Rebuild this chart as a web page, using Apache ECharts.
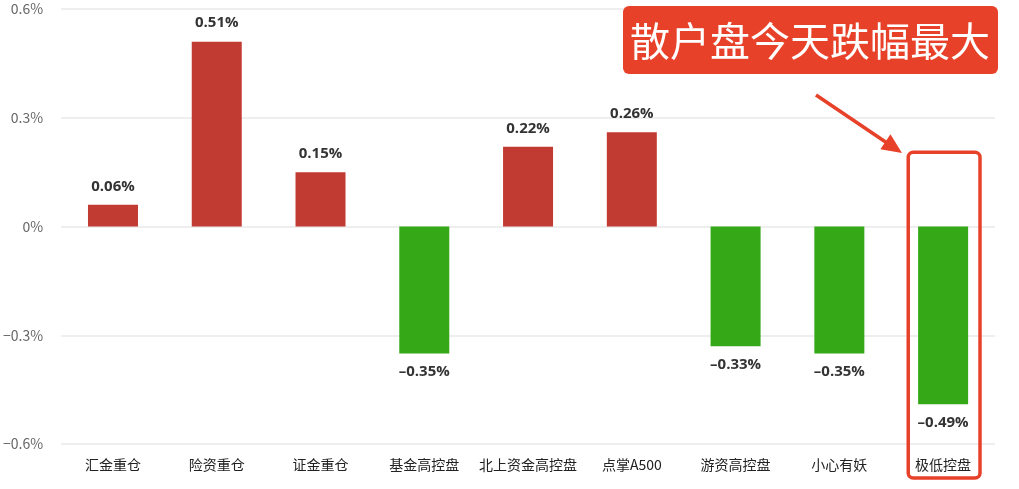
<!DOCTYPE html>
<html>
<head>
<meta charset="utf-8">
<script src="https://cdn.jsdelivr.net/npm/echarts@6/dist/echarts.min.js"></script>
<style>
  html, body { margin: 0; padding: 0; background: #fff; }
  #chart { width: 1019px; height: 489px; }
</style>
</head>
<body>
<div id="chart"></div>
<script>
// Daily change by watchlist group (%)
const categories = ['汇金重仓', '险资重仓', '证金重仓', '基金高控盘', '北上资金高控盘', '点掌A500', '游资高控盘', '小心有妖', '极低控盘'];
const changes = [0.06, 0.51, 0.15, -0.35, 0.22, 0.26, -0.33, -0.35, -0.49];
const yTicks = [-0.6, -0.3, 0, 0.3, 0.6];
const calloutText = '散户盘今天跌幅最大';
const highlightIndex = 8;

const UP = '#c23b32';
const DOWN = '#34a816';
const ACCENT = '#e8412a';
const CJK = '"Noto Sans CJK SC", "Noto Sans", sans-serif';

const GRID = { left: 59, right: 24, top: 9, bottom: 45 };

function fmtPct(v) {
  const r = Math.round(v * 100) / 100;
  if (r === 0) return '0%';
  return (r < 0 ? '–' : '') + Math.abs(r) + '%';
}

const chart = echarts.init(document.getElementById('chart'), null, { renderer: 'canvas' });

chart.setOption({
  animation: false,
  grid: Object.assign({ containLabel: false }, GRID),
  xAxis: {
    type: 'category',
    data: categories,
    axisLine: { show: false },
    axisTick: { show: false },
    axisLabel: { interval: 0, color: '#222', fontSize: 14, fontFamily: CJK, margin: 14 }
  },
  yAxis: {
    type: 'value',
    min: yTicks[0],
    max: yTicks[yTicks.length - 1],
    interval: 0.3,
    axisLine: { show: false },
    axisTick: { show: false },
    splitLine: { lineStyle: { color: '#e8e8e8', width: 1.5 } },
    axisLabel: {
      color: '#666', fontSize: 14, fontFamily: CJK, margin: 18,
      formatter: v => fmtPct(v).replace('–', '−')
    }
  },
  series: [{
    type: 'bar',
    barWidth: 50,
    data: changes.map(v => ({
      value: v,
      itemStyle: { color: v >= 0 ? UP : DOWN },
      label: { position: v >= 0 ? 'top' : 'bottom' }
    })),
    label: {
      show: true,
      distance: 11,
      color: '#333',
      fontSize: 15,
      fontWeight: 'bold',
      fontFamily: '"Open Sans", "Noto Sans", sans-serif',
      formatter: p => fmtPct(p.value)
    }
  }]
});

// Callout, arrow and highlight frame around the weakest group
function drawAnnotations() {
  const cx = chart.convertToPixel({ xAxisIndex: 0 }, categories[highlightIndex]);
  const boxTop = chart.convertToPixel({ yAxisIndex: 0 }, 0.205);
  const band = (1019 - GRID.left - GRID.right) / categories.length;
  const boxW = band * 0.69;
  const boxX = cx - boxW / 2 + 1;
  const boxBottom = 478;

  const arrowStart = [816, 95];
  const arrowEnd = [902, 153];
  const ang = Math.atan2(arrowEnd[1] - arrowStart[1], arrowEnd[0] - arrowStart[0]);
  const headLen = 20, headW = 9;
  const bx = arrowEnd[0] - headLen * Math.cos(ang);
  const by = arrowEnd[1] - headLen * Math.sin(ang);
  const px = -Math.sin(ang), py = Math.cos(ang);

  chart.setOption({
    graphic: [
      {
        type: 'rect',
        shape: { x: 623, y: 6, width: 375, height: 68, r: 6 },
        style: { fill: ACCENT },
        z: 100
      },
      {
        type: 'text',
        x: 810, y: 41,
        style: {
          text: calloutText,
          fill: '#fff',
          font: '40px ' + CJK,
          align: 'center',
          verticalAlign: 'middle'
        },
        z: 101
      },
      {
        type: 'line',
        shape: { x1: arrowStart[0], y1: arrowStart[1], x2: bx + 2 * Math.cos(ang), y2: by + 2 * Math.sin(ang) },
        style: { stroke: ACCENT, lineWidth: 3.5 },
        z: 100
      },
      {
        type: 'polygon',
        shape: { points: [arrowEnd, [bx + px * headW, by + py * headW], [bx - px * headW, by - py * headW]] },
        style: { fill: ACCENT },
        z: 100
      },
      {
        type: 'rect',
        shape: { x: boxX, y: boxTop, width: boxW, height: boxBottom - boxTop, r: 5 },
        style: { fill: 'none', stroke: ACCENT, lineWidth: 3.5 },
        z: 100
      }
    ]
  });
}
drawAnnotations();
</script>
</body>
</html>
